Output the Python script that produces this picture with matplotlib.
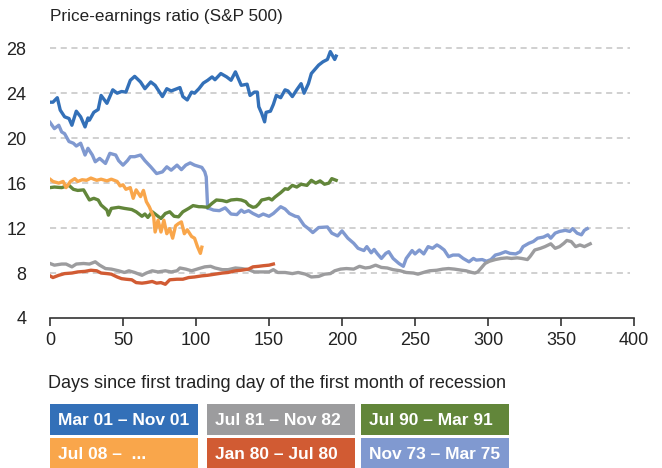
import matplotlib
matplotlib.use("Agg")
from matplotlib import pyplot as plt
from matplotlib.patches import Rectangle

plt.rcParams["font.family"] = ["Liberation Sans", "DejaVu Sans"]

# ============
# Data (days since start, P/E ratio)
# ============
mar01_days = [0, 2, 5, 7, 10, 13, 15, 18, 21, 24, 26, 27, 30, 33, 35, 39, 43, 46, 49, 52, 55, 58,
              62, 65, 69, 72, 77, 80, 83, 89, 91, 94, 97, 99, 102, 105, 108, 111, 113, 117, 121,
              124, 127, 129, 131, 135, 137, 140, 142, 143, 145, 147, 148, 151, 153, 155, 158, 161,
              163, 166, 169, 172, 174, 177, 179, 184, 187, 190, 192, 195, 196]
mar01_pe = [23.2, 23.2, 23.6, 22.5, 21.9, 21.75, 21.15, 22.4, 21.9, 21.0, 21.8, 21.6, 22.3, 22.55,
            23.8, 23.1, 24.3, 24.0, 24.15, 24.1, 25.15, 25.5, 25.0, 24.4, 25.0, 24.7, 23.7, 24.4,
            24.2, 24.5, 23.7, 23.4, 24.1, 24.0, 24.4, 24.9, 25.15, 25.45, 25.2, 25.75, 25.45,
            25.15, 25.9, 25.3, 24.7, 24.8, 23.8, 24.1, 24.1, 22.8, 22.2, 21.45, 22.3, 22.4, 23.0,
            23.8, 23.6, 24.3, 24.2, 23.7, 24.3, 24.85, 24.0, 24.85, 25.75, 26.5, 26.8, 27.0, 27.7,
            27.0, 27.3]

jul81_days = [0, 3, 8, 11, 15, 18, 23, 27, 31, 34, 38, 42, 47, 51, 54, 58, 63, 66, 70, 74, 79,
              83, 87, 89, 93, 97, 102, 106, 110, 113, 118, 122, 127, 131, 136, 140, 145, 150, 153,
              156, 161, 166, 170, 175, 179, 184, 188, 192, 195, 199, 203, 208, 212, 216, 219, 223,
              227, 231, 235, 240, 244, 249, 252, 257, 260, 265, 269, 273, 277, 282, 285, 289, 291,
              293, 296, 298, 301, 305, 309, 313, 316, 320, 323, 327, 329, 332, 336, 339, 343, 346,
              349, 352, 354, 357, 360, 363, 366, 370]
jul81_pe = [8.85, 8.7, 8.8, 8.8, 8.55, 8.8, 8.85, 8.8, 9.0, 8.7, 8.4, 8.35, 8.2, 8.05, 8.2, 8.05,
            7.8, 8.0, 8.2, 8.1, 8.2, 8.1, 8.2, 8.45, 8.35, 8.2, 8.4, 8.55, 8.6, 8.45, 8.3, 8.3,
            8.45, 8.4, 8.3, 8.1, 8.1, 8.1, 8.3, 8.05, 8.05, 7.95, 8.05, 7.9, 7.65, 7.7, 7.9, 7.95,
            8.2, 8.35, 8.4, 8.35, 8.6, 8.45, 8.5, 8.7, 8.5, 8.45, 8.3, 8.2, 8.05, 8.0, 7.9, 8.1,
            8.2, 8.25, 8.35, 8.4, 8.35, 8.25, 8.2, 8.05, 8.0, 8.1, 8.55, 8.85, 9.05, 9.2, 9.3,
            9.35, 9.3, 9.35, 9.3, 9.2, 9.5, 10.05, 10.2, 10.35, 10.6, 10.2, 10.35, 10.65, 10.9,
            10.8, 10.35, 10.5, 10.35, 10.6]

jul90_days = [0, 3, 8, 13, 16, 19, 23, 25, 27, 30, 33, 35, 39, 40, 42, 47, 51, 56, 59, 63, 65,
              67, 70, 73, 76, 79, 82, 85, 88, 91, 95, 98, 102, 104, 108, 111, 114, 118, 121, 124,
              128, 131, 134, 136, 139, 141, 143, 145, 147, 150, 152, 154, 158, 161, 163, 166, 169,
              172, 176, 179, 182, 185, 188, 191, 193, 196]
jul90_pe = [15.6, 15.65, 15.6, 15.8, 15.45, 15.35, 15.4, 14.95, 14.5, 14.65, 14.5, 14.05, 13.6,
            13.15, 13.75, 13.85, 13.75, 13.65, 13.45, 13.05, 13.25, 12.95, 13.45, 13.15, 12.85,
            13.3, 13.45, 13.05, 13.0, 13.45, 13.75, 14.0, 13.9, 13.9, 13.85, 14.2, 14.5, 14.45,
            14.35, 14.5, 14.55, 14.5, 14.35, 14.05, 13.85, 13.9, 14.15, 14.5, 14.55, 14.65, 14.5,
            14.75, 15.15, 15.5, 15.45, 15.8, 15.65, 15.9, 15.8, 16.25, 16.0, 16.2, 15.9, 16.0,
            16.4, 16.25]

jul08_days = [0, 2, 6, 9, 11, 14, 17, 19, 22, 25, 28, 32, 35, 39, 42, 46, 48, 50, 52, 55, 57,
              59, 62, 64, 66, 68, 71, 72, 74, 76, 78, 80, 82, 84, 86, 88, 90, 92, 94, 97, 99, 101,
              103, 104]
jul08_pe = [16.35, 16.15, 16.0, 16.15, 15.6, 16.15, 16.4, 16.15, 16.3, 16.25, 16.45, 16.25,
            16.35, 16.2, 16.35, 16.15, 15.75, 15.85, 15.45, 15.6, 14.65, 15.4, 14.8, 15.35,
            14.35, 13.9, 13.0, 11.65, 12.7, 11.65, 12.7, 11.5, 11.95, 11.1, 12.2, 12.4, 12.55,
            11.5, 11.85, 11.25, 11.1, 10.35, 9.75, 10.3]

jan80_days = [0, 2, 6, 10, 15, 19, 24, 28, 32, 35, 39, 42, 46, 49, 52, 56, 59, 63, 66, 70, 73,
              76, 79, 82, 87, 91, 95, 99, 104, 108, 113, 118, 122, 127, 131, 136, 139, 143, 146,
              150, 153]
jan80_pe = [7.75, 7.6, 7.8, 7.95, 8.0, 8.1, 8.15, 8.25, 8.2, 8.0, 7.95, 7.9, 7.65, 7.5, 7.45,
            7.4, 7.15, 7.1, 7.15, 7.25, 7.1, 7.15, 7.0, 7.4, 7.45, 7.45, 7.6, 7.65, 7.75, 7.8,
            7.9, 8.0, 8.05, 8.2, 8.25, 8.35, 8.55, 8.6, 8.65, 8.7, 8.8]

nov73_days = [0, 3, 6, 8, 10, 13, 16, 18, 21, 24, 26, 29, 31, 34, 38, 41, 45, 47, 50, 53, 55,
              58, 62, 65, 69, 73, 77, 80, 83, 87, 90, 93, 96, 99, 104, 106, 107, 108, 109, 112,
              116, 120, 124, 128, 131, 133, 136, 139, 143, 146, 150, 153, 158, 161, 164, 168, 170,
              174, 177, 180, 184, 190, 193, 197, 200, 204, 208, 211, 215, 217, 220, 222, 224, 227,
              230, 232, 235, 239, 242, 244, 248, 250, 253, 256, 259, 262, 265, 267, 270, 273, 276,
              280, 283, 287, 290, 292, 296, 299, 302, 305, 308, 312, 315, 319, 322, 324, 328, 331,
              334, 338, 341, 343, 346, 349, 353, 356, 358, 361, 364, 366, 368]
nov73_pe = [21.4, 20.85, 21.15, 20.55, 20.4, 19.7, 19.55, 19.3, 19.55, 18.5, 19.1, 18.5, 17.9,
            18.2, 17.75, 18.65, 18.5, 18.0, 17.6, 18.0, 18.35, 18.35, 18.5, 18.0, 17.45, 16.85,
            17.0, 17.45, 17.15, 17.6, 17.2, 17.6, 17.8, 17.6, 17.4, 17.0, 16.55, 13.75, 13.75,
            13.6, 13.55, 13.8, 13.25, 13.2, 13.6, 13.4, 13.55, 13.3, 13.05, 13.25, 13.05, 13.3,
            13.9, 13.7, 13.3, 13.05, 13.0, 12.25, 11.95, 11.6, 12.05, 12.1, 11.55, 11.3, 11.75,
            11.1, 10.65, 10.2, 10.0, 10.35, 9.8, 10.1, 9.75, 9.3, 9.75, 9.9, 9.3, 8.85, 8.6, 9.3,
            10.0, 9.7, 10.05, 9.7, 10.35, 10.2, 10.5, 10.35, 10.05, 9.45, 9.6, 9.6, 9.3, 9.0, 9.3,
            9.15, 9.2, 9.05, 9.2, 9.6, 9.7, 9.9, 9.75, 9.7, 9.9, 10.35, 10.65, 10.8, 11.1, 11.2,
            11.4, 11.1, 11.55, 11.7, 11.8, 11.7, 11.95, 11.55, 11.4, 11.8, 11.95]

# ============
# Colors per recession
# ============
c_mar01 = "#3370b8"
c_jul81 = "#9c9c9e"
c_jul90 = "#62863a"
c_jul08 = "#f9a64b"
c_jan80 = "#d15b33"
c_nov73 = "#8099d0"

series = [
    (nov73_days, nov73_pe, c_nov73),
    (jul81_days, jul81_pe, c_jul81),
    (jan80_days, jan80_pe, c_jan80),
    (jul90_days, jul90_pe, c_jul90),
    (jul08_days, jul08_pe, c_jul08),
    (mar01_days, mar01_pe, c_mar01),
]

legend_rows = [
    [("Mar 01 \u2013 Nov 01", c_mar01), ("Jul 81 \u2013 Nov 82", c_jul81), ("Jul 90 \u2013 Mar 91", c_jul90)],
    [("Jul 08 \u2013  ...", c_jul08), ("Jan 80 \u2013 Jul 80", c_jan80), ("Nov 73 \u2013 Mar 75", c_nov73)],
]

W, H = 662, 468
fig = plt.figure(figsize=(W / 100, H / 100), dpi=100)
ax = fig.add_axes([50 / W, 1 - 318 / H, 584 / W, (318 - 37) / H])

for _d, _v, _c in series:
    ax.plot(_d, _v, color=_c, lw=2.4, solid_joinstyle="round")

ax.set_xlim(0, 400)
ax.set_ylim(4, 29)
ax.set_xticks(range(0, 401, 50))
ax.set_yticks(range(4, 29, 4))
for _y in range(8, 29, 4):
    ax.axhline(_y, xmin=0, xmax=580 / 584, color="#c4c4c4", lw=1.1, ls=(0, (4, 3)), zorder=0)

for _s in ["left", "right", "top"]:
    ax.spines[_s].set_visible(False)
ax.spines["bottom"].set_color("#333333")
ax.spines["bottom"].set_linewidth(1.2)
ax.tick_params(axis="x", length=6, width=1.2, color="#333333", labelsize=13,
               labelcolor="#222222", pad=4)
ax.tick_params(axis="y", length=0, labelsize=13, labelcolor="#222222", pad=17)

fig.text(50 / W, 1 - 17 / H, "Price-earnings ratio (S&P 500)", fontsize=12.3,
         color="#222222", va="center", ha="left")
fig.text(48 / W, 1 - 383 / H, "Days since first trading day of the first month of recession",
         fontsize=13, color="#222222", va="center", ha="left")

# legend boxes
box_x = [50, 207, 361]
box_w = 148
row_y = [404, 438]
box_h = 31
for _r, _row in enumerate(legend_rows):
    for _i, (_lab, _c) in enumerate(_row):
        x0 = box_x[_i]
        y0 = row_y[_r]
        fig.patches.append(Rectangle((x0 / W, 1 - (y0 + box_h) / H), box_w / W, box_h / H,
                                     transform=fig.transFigure, facecolor=_c, edgecolor="none"))
        fig.text((x0 + 8) / W, 1 - (y0 + box_h / 2 + 1) / H, _lab, color="white",
                 fontsize=12.5, fontweight="bold", va="center", ha="left")

fig.savefig("out.png", dpi=100)
